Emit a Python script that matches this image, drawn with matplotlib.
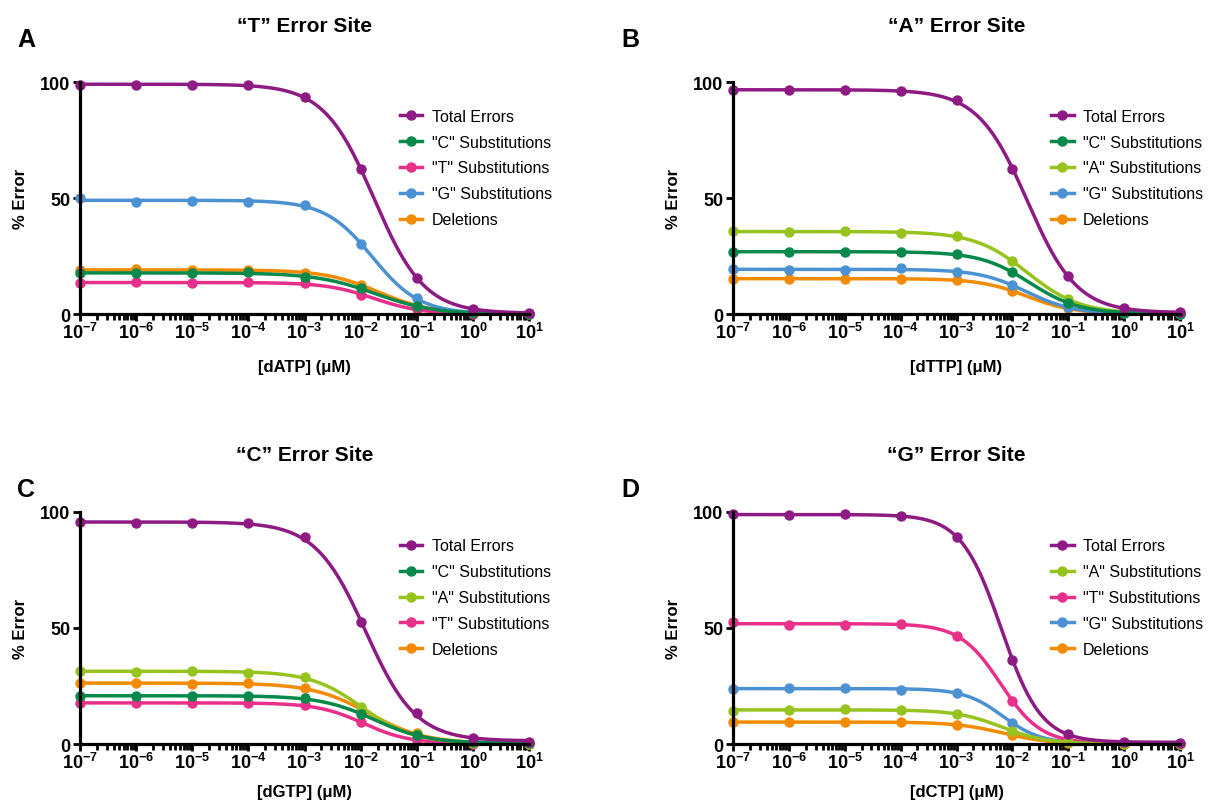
import numpy as np
import matplotlib
matplotlib.use("Agg")
import matplotlib.pyplot as plt
from matplotlib.ticker import LogLocator, FixedLocator, FuncFormatter

plt.rcParams['font.family'] = ['Liberation Sans', 'DejaVu Sans']
plt.rcParams['mathtext.fontset'] = 'custom'
plt.rcParams['mathtext.rm'] = 'Liberation Sans'
plt.rcParams['mathtext.bf'] = 'Liberation Sans:bold'

# nucleotide concentration (uM)
conc = [1e-7, 1e-6, 1e-5, 1e-4, 1e-3, 1e-2, 1e-1, 1e0, 1e1]

# panel A - "T" error site, dATP
total_A = [98.9, 98.9, 98.9, 98.7, 93.4, 62.5, 15.6, 2.1, 0.6]
csub_A = [17.5, 17.7, 17.7, 17.9, 16.0, 11.0, 3.4, 0.3, 0.1]
tsub_A = [13.2, 13.7, 13.4, 13.7, 13.2, 8.4, 2.1, 0.1, 0.0]
gsub_A = [49.9, 48.5, 48.9, 48.2, 46.8, 30.3, 6.7, 0.6, 0.2]
del_A = [18.9, 19.2, 19.0, 19.0, 17.6, 12.7, 3.6, 0.4, 0.1]

# panel B - "A" error site, dTTP
total_B = [96.6, 96.4, 96.6, 96.0, 92.1, 62.5, 16.3, 2.4, 0.7]
csub_B = [26.8, 26.9, 26.8, 26.6, 25.8, 17.9, 4.9, 0.6, 0.2]
asub_B = [35.8, 35.3, 35.6, 35.0, 33.5, 22.7, 6.4, 0.9, 0.3]
gsub_B = [19.2, 18.9, 19.0, 19.9, 18.2, 12.4, 2.9, 0.3, 0.1]
del_B = [15.0, 15.3, 15.3, 15.2, 14.6, 9.9, 2.4, 0.3, 0.1]

# panel C - "C" error site, dGTP
total_C = [95.4, 95.0, 95.1, 95.0, 89.2, 52.4, 13.3, 2.4, 1.0]
csub_C = [20.7, 20.8, 20.7, 20.5, 19.7, 12.9, 3.9, 0.7, 0.3]
asub_C = [31.4, 31.0, 31.3, 30.7, 29.0, 15.8, 4.3, 0.6, 0.2]
tsub_C = [17.6, 17.6, 17.6, 17.8, 16.6, 9.3, 1.9, 0.2, 0.1]
del_C = [26.1, 26.1, 26.0, 26.1, 24.2, 14.8, 4.6, 0.6, 0.2]

# panel D - "G" error site, dCTP
total_D = [98.9, 98.6, 99.0, 98.0, 89.2, 36.3, 4.3, 1.0, 0.6]
asub_D = [14.3, 14.8, 14.9, 14.6, 12.9, 5.7, 0.7, 0.1, 0.0]
tsub_D = [52.4, 51.4, 51.4, 51.5, 46.6, 18.7, 1.9, 0.2, 0.1]
gsub_D = [23.8, 24.0, 24.0, 23.4, 22.0, 9.0, 1.1, 0.1, 0.0]
del_D = [9.3, 9.5, 9.6, 9.3, 8.2, 3.9, 0.4, 0.0, 0.0]

C_TOTAL = '#8e1b84'
C_C = '#06894a'
C_T = '#e8308a'
C_G = '#4c92d3'
C_A = '#97c31f'
C_DEL = '#f38b00'

panels = [
    ('A', '\u201cT\u201d Error Site', '[dATP] (\u03bcM)',
     [('Total Errors', total_A, C_TOTAL), ('"C" Substitutions', csub_A, C_C),
      ('"T" Substitutions', tsub_A, C_T), ('"G" Substitutions', gsub_A, C_G),
      ('Deletions', del_A, C_DEL)]),
    ('B', '\u201cA\u201d Error Site', '[dTTP] (\u03bcM)',
     [('Total Errors', total_B, C_TOTAL), ('"C" Substitutions', csub_B, C_C),
      ('"A" Substitutions', asub_B, C_A), ('"G" Substitutions', gsub_B, C_G),
      ('Deletions', del_B, C_DEL)]),
    ('C', '\u201cC\u201d Error Site', '[dGTP] (\u03bcM)',
     [('Total Errors', total_C, C_TOTAL), ('"C" Substitutions', csub_C, C_C),
      ('"A" Substitutions', asub_C, C_A), ('"T" Substitutions', tsub_C, C_T),
      ('Deletions', del_C, C_DEL)]),
    ('D', '\u201cG\u201d Error Site', '[dCTP] (\u03bcM)',
     [('Total Errors', total_D, C_TOTAL), ('"A" Substitutions', asub_D, C_A),
      ('"T" Substitutions', tsub_D, C_T), ('"G" Substitutions', gsub_D, C_G),
      ('Deletions', del_D, C_DEL)]),
]


def fit_curve(x, y):
    # log(inhibitor) vs response, variable slope; grid over logIC50 and hill,
    # least squares for top/bottom
    lx = np.log10(x)
    y = np.asarray(y, float)
    c = np.arange(-5, 1, 0.01)
    h = np.arange(0.3, 3.0, 0.01)
    C, H = np.meshgrid(c, h, indexing='ij')
    s = 1 / (1 + 10 ** ((lx[None, None, :] - C[..., None]) * H[..., None]))
    sm = s.mean(-1)
    ym = y.mean()
    b = ((s - sm[..., None]) * (y - ym)).sum(-1) / ((s - sm[..., None]) ** 2).sum(-1)
    a = ym - b * sm
    res = ((a[..., None] + b[..., None] * s - y) ** 2).sum(-1)
    i, j = np.unravel_index(np.argmin(res), res.shape)
    xs = np.linspace(lx[0], lx[-1], 400)
    ys = a[i, j] + b[i, j] * (1 / (1 + 10 ** ((xs - c[i]) * h[j])))
    return 10 ** xs, ys


def fmt(v, pos):
    e = int(round(np.log10(v)))
    return r'$\mathbf{10^{%d}}$' % e


fig = plt.figure(figsize=(12.09, 8.03), dpi=100)

rects = [
    [0.0662, 0.6077, 0.3714, 0.2889],
    [0.6063, 0.6077, 0.3697, 0.2889],
    [0.0662, 0.0722, 0.3714, 0.2893],
    [0.6063, 0.0722, 0.3697, 0.2893],
]
letter_pos = [(0.014, 0.950), (0.514, 0.950), (0.014, 0.390), (0.514, 0.390)]
xlabel_pad = [12, 12, 8, 8]

for k, (letter, title, xlabel, series) in enumerate(panels):
    ax = fig.add_axes(rects[k])
    handles = []
    for name, vals, col in reversed(series):
        cx, cy = fit_curve(conc, vals)
        ax.plot(cx, cy, color=col, lw=2.5, clip_on=False, solid_capstyle='round')
        ax.plot(conc, vals, 'o', color=col, ms=6.5, clip_on=False)
    for name, vals, col in series:
        h, = ax.plot([], [], '-o', color=col, lw=2.5, ms=6.5, label=name)
        handles.append(h)

    ax.set_xscale('log')
    ax.set_xlim(1e-7, 1e1)
    ax.set_ylim(0, 100)
    ax.xaxis.set_major_locator(FixedLocator(conc))
    ax.xaxis.set_major_formatter(FuncFormatter(fmt))
    ax.xaxis.set_minor_locator(LogLocator(base=10, subs=np.arange(2, 10), numticks=20))
    ax.set_yticks([0, 50, 100])
    ax.set_yticklabels(['0', '50', '100'], fontweight='bold')
    for sp in ['top', 'right']:
        ax.spines[sp].set_visible(False)
    for sp in ['left', 'bottom']:
        ax.spines[sp].set_linewidth(2.3)
    ax.tick_params(axis='both', which='major', length=5, width=2, labelsize=13, pad=2)
    ax.tick_params(axis='x', which='minor', length=4, width=2)
    ax.tick_params(axis='x', which='major', pad=1)

    ax.set_xlabel(xlabel, fontsize=12, fontweight='bold', labelpad=xlabel_pad[k])
    ax.set_ylabel('% Error', fontsize=12, fontweight='bold', labelpad=9)
    ax.set_title(title, fontsize=15, fontweight='bold', pad=37)

    ax.legend(handles=handles, loc='upper left', bbox_to_anchor=(0.712, 0.885),
              frameon=False, fontsize=11.5, handlelength=1.4, handletextpad=0.6,
              labelspacing=0.68, borderpad=0, borderaxespad=0)

    fig.text(letter_pos[k][0], letter_pos[k][1], letter, fontsize=18,
             fontweight='bold', ha='left', va='center')

fig.savefig('out.png', dpi=100)
